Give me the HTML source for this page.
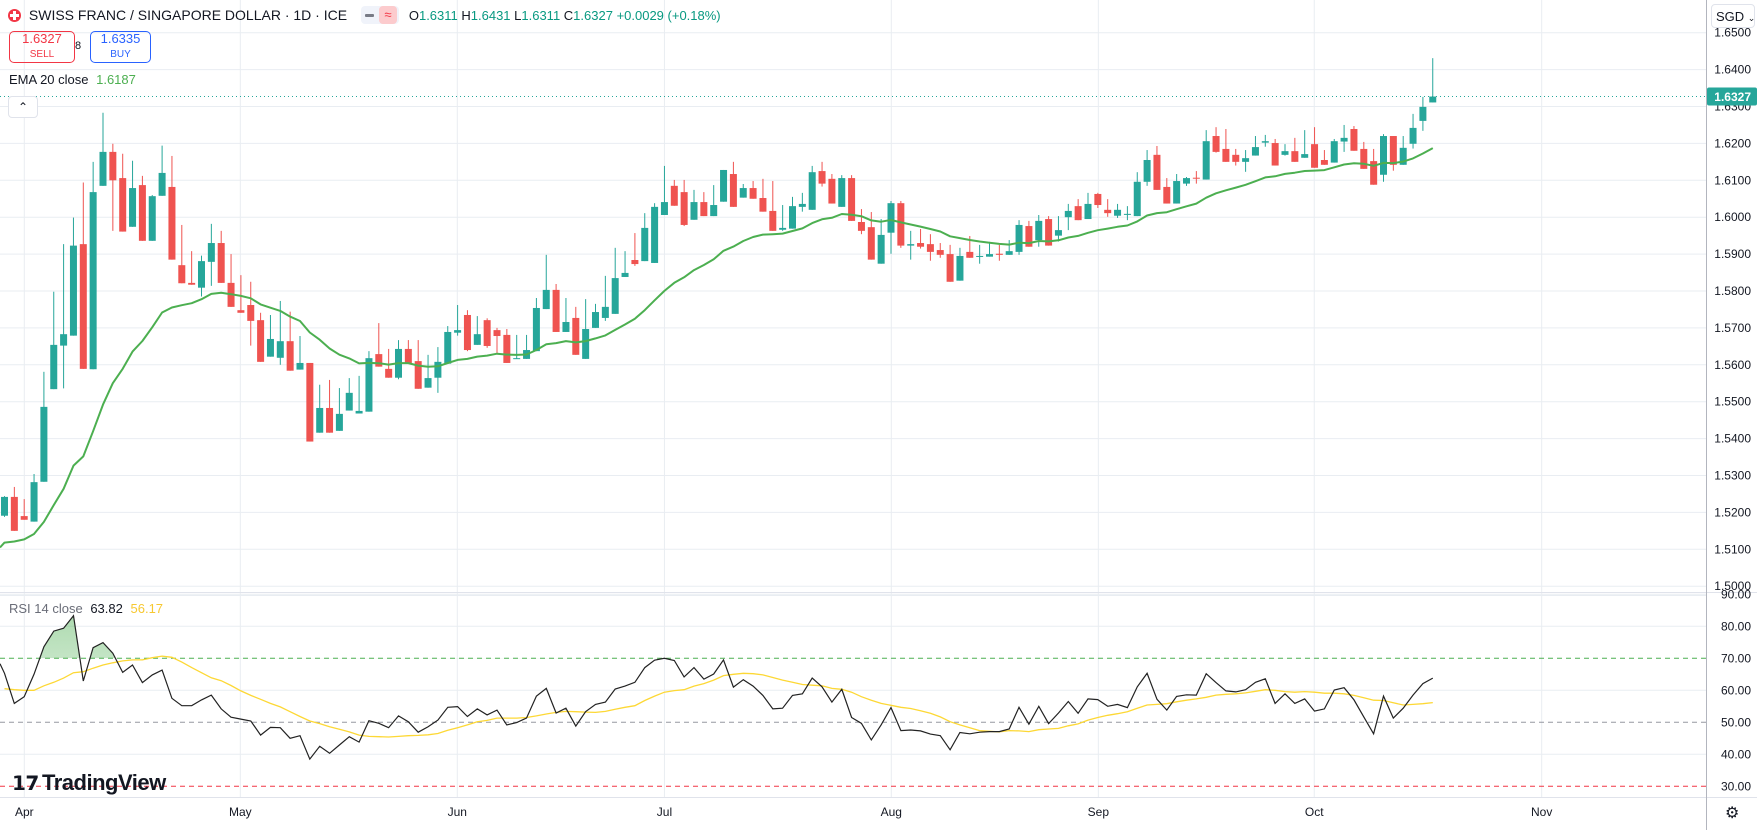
<!DOCTYPE html>
<html><head><meta charset="utf-8"><style>
html,body{margin:0;padding:0;background:#fff;}
body{width:1757px;height:830px;overflow:hidden;position:relative;font-family:"Liberation Sans",sans-serif;}
svg{position:absolute;left:0;top:0;}
.hdr{position:absolute;font-size:14px;color:#131722;white-space:nowrap;}
</style></head><body>
<svg id="chart" width="1757" height="830" viewBox="0 0 1757 830" xmlns="http://www.w3.org/2000/svg">
<defs>
<linearGradient id="obg" x1="0" y1="0" x2="0" y2="1"><stop offset="0" stop-color="#4caf50" stop-opacity="0.45"/><stop offset="1" stop-color="#4caf50" stop-opacity="0.05"/></linearGradient>
<clipPath id="obClip"><rect x="0" y="596" width="1706" height="62.3"/></clipPath>
<clipPath id="mainClip"><rect x="0" y="0" width="1706" height="590"/></clipPath>
</defs>
<g id="grid"></g>
<g id="candles" clip-path="url(#mainClip)"></g>
<g id="rsiG"></g>
<g id="axes"></g>
</svg>

<div class="hdr" style="left:8px;top:6px;">
<span style="display:inline-block;width:13px;height:13px;border-radius:50%;background:#f23645;vertical-align:-2px;position:relative;"><span style="position:absolute;left:2px;top:5px;width:9px;height:3px;background:#fff"></span><span style="position:absolute;left:5px;top:2px;width:3px;height:9px;background:#fff"></span></span>
<span style="margin-left:4px;">SWISS FRANC / SINGAPORE DOLLAR · 1D · ICE</span>
<span style="display:inline-block;margin-left:10px;width:38px;height:18px;border-radius:4px;background:#f0f3fa;vertical-align:-4px;position:relative;"><span style="position:absolute;left:4px;top:8px;width:9px;height:3px;background:#787b86;border-radius:1px"></span><span style="position:absolute;left:18px;top:0;width:18px;height:18px;border-radius:4px;background:#fccbcd;color:#f23645;font-size:13px;text-align:center;line-height:18px;">≈</span></span>
<span style="margin-left:6px;font-size:13px;">O<span style="color:#089981">1.6311</span> H<span style="color:#089981">1.6431</span> L<span style="color:#089981">1.6311</span> C<span style="color:#089981">1.6327</span> <span style="color:#089981">+0.0029 (+0.18%)</span></span>
</div>
<div style="position:absolute;left:9px;top:31px;width:64px;height:30px;border:1px solid #f23645;border-radius:5px;color:#f23645;text-align:center;font-size:13px;line-height:14px;">1.6327<br><span style="font-size:10px;">SELL</span></div>
<div style="position:absolute;left:75px;top:40px;font-size:11px;color:#131722;">8</div>
<div style="position:absolute;left:90px;top:31px;width:59px;height:30px;border:1px solid #2962ff;border-radius:5px;color:#2962ff;text-align:center;font-size:13px;line-height:14px;">1.6335<br><span style="font-size:10px;">BUY</span></div>
<div style="position:absolute;left:9px;top:72px;font-size:13px;color:#131722;">EMA 20 close <span style="color:#4caf50;margin-left:4px;">1.6187</span></div>
<div style="position:absolute;left:8px;top:96px;width:28px;height:20px;border:1px solid #e0e3eb;border-radius:4px;background:#fff;text-align:center;font-size:12px;line-height:20px;color:#131722;">⌃</div>
<div style="position:absolute;left:9px;top:601px;font-size:13px;color:#6a6d78;">RSI 14 close <span style="color:#131722;margin-left:4px;">63.82</span> <span style="color:#f7c831;margin-left:4px;">56.17</span></div>
<div style="position:absolute;left:12px;top:770px;font-size:22px;font-weight:bold;color:#131722;letter-spacing:-0.5px;"><span style="display:inline-block;width:30px;font-size:20px;">𝟭𝟳</span>TradingView</div>
<div style="position:absolute;left:1711px;top:4px;width:44px;height:24px;border:1px solid #e0e3eb;border-radius:4px;background:#fff;font-size:13px;line-height:24px;color:#131722;white-space:nowrap;padding-left:4px;box-sizing:border-box;">SGD <span style="font-size:9px;">⌄</span></div>
<div style="position:absolute;left:1725px;top:803px;font-size:16px;color:#131722;">⚙</div>

<script>
const opens=[1.5191,1.5242,1.5190,1.5175,1.5283,1.5534,1.5652,1.5679,1.5927,1.5588,1.6085,1.6177,1.6106,1.5974,1.6087,1.5936,1.6058,1.6082,1.5870,1.5822,1.5809,1.5879,1.5930,1.5822,1.5748,1.5762,1.5721,1.5622,1.5619,1.5664,1.5587,1.5605,1.5416,1.5483,1.5421,1.5476,1.5468,1.5473,1.5629,1.5589,1.5565,1.5643,1.5610,1.5538,1.5565,1.5603,1.5687,1.5735,1.5654,1.5721,1.5694,1.5681,1.5616,1.5616,1.5637,1.5751,1.5803,1.5689,1.5727,1.5616,1.5700,1.5727,1.5738,1.5838,1.5884,1.5881,1.5876,1.6006,1.6085,1.6068,1.5993,1.6041,1.6003,1.6042,1.6117,1.6053,1.6079,1.6052,1.6017,1.5966,1.5969,1.6028,1.6020,1.6125,1.6104,1.6028,1.6106,1.5987,1.5973,1.5874,1.5958,1.6038,1.5923,1.5930,1.5927,1.5911,1.5900,1.5828,1.5906,1.5893,1.5893,1.5901,1.5898,1.5906,1.5976,1.5938,1.5995,1.5950,1.6000,1.6030,1.5995,1.6063,1.6020,1.6004,1.6007,1.6003,1.6096,1.6169,1.6082,1.6037,1.6091,1.6107,1.6102,1.6220,1.6185,1.6169,1.6150,1.6167,1.6202,1.6201,1.6169,1.6179,1.6161,1.6198,1.6155,1.6148,1.6205,1.6239,1.6185,1.6152,1.6115,1.6220,1.6142,1.6199,1.6261,1.6311];
const highs=[1.5244,1.5269,1.5236,1.5304,1.5581,1.5798,1.5927,1.5999,1.6094,1.6150,1.6283,1.6199,1.6172,1.6153,1.6112,1.6060,1.6194,1.6166,1.5979,1.5908,1.5896,1.5982,1.5963,1.5900,1.5843,1.5825,1.5741,1.5735,1.5773,1.5744,1.5678,1.5605,1.5546,1.5559,1.5537,1.5564,1.5570,1.5637,1.5713,1.5643,1.5667,1.5667,1.5667,1.5627,1.5648,1.5705,1.5762,1.5748,1.5732,1.5726,1.5700,1.5697,1.5681,1.5681,1.5781,1.5898,1.5819,1.5781,1.5757,1.5778,1.5765,1.5841,1.5917,1.5908,1.5957,1.6011,1.6038,1.6139,1.6101,1.6101,1.6074,1.6068,1.6087,1.6128,1.6150,1.6090,1.6098,1.6104,1.6098,1.6033,1.6055,1.6066,1.6139,1.6150,1.6117,1.6114,1.6114,1.6022,1.6014,1.5995,1.6044,1.6044,1.5963,1.5968,1.5954,1.5930,1.5925,1.5917,1.5949,1.5925,1.5933,1.5925,1.5938,1.5992,1.5990,1.6006,1.6003,1.6003,1.6036,1.6049,1.6066,1.6066,1.6049,1.6036,1.6030,1.6122,1.6182,1.6193,1.6106,1.6117,1.6109,1.6125,1.6236,1.6244,1.6239,1.6185,1.6182,1.6220,1.6223,1.6212,1.6198,1.6215,1.6236,1.6244,1.6182,1.6212,1.6250,1.6247,1.6204,1.6185,1.6225,1.6220,1.6220,1.6280,1.6326,1.6431];
const lows=[1.5188,1.5150,1.5180,1.5175,1.5283,1.5534,1.5536,1.5679,1.5589,1.5588,1.6085,1.5963,1.5961,1.5974,1.5936,1.5936,1.6058,1.5885,1.5821,1.5817,1.5785,1.5814,1.5822,1.5757,1.5741,1.5652,1.5608,1.5622,1.5600,1.5584,1.5587,1.5392,1.5416,1.5416,1.5421,1.5476,1.5468,1.5473,1.5595,1.5565,1.5561,1.5605,1.5535,1.5538,1.5524,1.5603,1.5679,1.5637,1.5654,1.5646,1.5632,1.5605,1.5616,1.5616,1.5637,1.5751,1.5689,1.5689,1.5627,1.5616,1.5700,1.5719,1.5738,1.5838,1.5868,1.5881,1.5876,1.6006,1.6031,1.5976,1.5993,1.6003,1.6003,1.6042,1.6028,1.6053,1.6050,1.6015,1.5963,1.5963,1.5969,1.6015,1.6020,1.6083,1.6037,1.6028,1.5990,1.5954,1.5885,1.5874,1.5901,1.5917,1.5885,1.5915,1.5882,1.5890,1.5825,1.5828,1.5890,1.5874,1.5893,1.5882,1.5898,1.5898,1.5920,1.5920,1.5923,1.5934,1.5965,1.5992,1.5995,1.6025,1.6001,1.5998,1.5992,1.6003,1.6085,1.6074,1.6037,1.6037,1.6085,1.6091,1.6102,1.6175,1.6150,1.6140,1.6123,1.6167,1.6191,1.6140,1.6167,1.6150,1.6161,1.6134,1.6142,1.6148,1.6177,1.6180,1.6131,1.6088,1.6096,1.6126,1.6142,1.6186,1.6234,1.6311];
const closes=[1.5242,1.5150,1.5180,1.5282,1.5486,1.5654,1.5683,1.5923,1.5589,1.6068,1.6177,1.6100,1.5961,1.6079,1.5936,1.6057,1.6120,1.5885,1.5821,1.5817,1.5881,1.5930,1.5822,1.5757,1.5741,1.5719,1.5608,1.5670,1.5664,1.5584,1.5605,1.5392,1.5483,1.5416,1.5467,1.5524,1.5475,1.5618,1.5595,1.5565,1.5643,1.5605,1.5535,1.5564,1.5608,1.5689,1.5694,1.5640,1.5683,1.5651,1.5678,1.5605,1.5618,1.5640,1.5754,1.5803,1.5689,1.5716,1.5627,1.5697,1.5743,1.5757,1.5835,1.5849,1.5873,1.5971,1.6028,1.6041,1.6031,1.5979,1.6041,1.6003,1.6033,1.6128,1.6028,1.6079,1.6050,1.6015,1.5963,1.5971,1.6030,1.6036,1.6122,1.6091,1.6037,1.6106,1.5990,1.5963,1.5885,1.5952,1.6038,1.5923,1.5927,1.5920,1.5906,1.5898,1.5825,1.5895,1.5890,1.5895,1.5900,1.5898,1.5908,1.5979,1.5920,1.5990,1.5923,1.5965,1.6017,1.5992,1.6036,1.6033,1.6011,1.6020,1.6009,1.6096,1.6155,1.6074,1.6037,1.6098,1.6106,1.6105,1.6206,1.6177,1.6150,1.6150,1.6160,1.6190,1.6206,1.6140,1.6179,1.6150,1.6171,1.6134,1.6142,1.6206,1.6215,1.6180,1.6131,1.6088,1.6220,1.6142,1.6188,1.6242,1.6299,1.6327];
const emaSeed=1.5105;
const rsiValues=[65.3,55.9,58,65,73.6,78.5,79.4,83.3,62.9,73.3,74.9,71.6,65.6,67.9,62.4,64.8,66.3,57.5,55.2,55.2,57,58.5,54.2,51.6,51,50.4,46,48.4,48.3,45,45.8,38.5,42.5,40.3,42.9,45.5,43.8,50.5,49.7,48.3,52,50.2,46.9,48.6,50.7,54.7,54.9,51.8,54.2,52.3,53.8,49.2,49.9,51.3,58.2,60.6,52.9,54.4,48.8,53.3,55.6,56.3,60.4,61.3,62.5,67.1,69.4,70,69.3,64.2,67.1,63.5,65.1,69.5,61,63.3,61.3,58.4,54.2,54.4,58.4,58.9,63.8,61.1,56.3,60.3,51.5,49.7,44.5,49.2,54.6,47.4,47.6,47.3,46.3,45.8,41.4,46.8,46.4,46.9,47.1,47.1,47.9,54.7,49.4,55,49.6,52.9,56.5,52.8,57.3,57.1,55,55.6,54.6,61.1,65.3,57.2,53.8,58.1,58.6,58.5,65.2,62.4,59.8,59.5,60.2,62.5,63.6,55.9,58.9,55.9,57.3,53.5,54.2,60.1,60.8,57,51.7,46.4,58.2,51.3,54.4,58.5,62.1,63.82];
const rsiMaValues=[60.5,60.2,60,60,61.4,62.5,63.8,65.5,65.8,66.9,67.9,68.6,69.2,69.5,69.5,70.2,70.7,70.3,68.8,67.1,65.5,63.9,63,61.5,59.8,58.4,57.2,55.9,54.8,53.3,51.8,50.4,49.6,48.6,47.8,47,46,45.6,45.5,45.4,45.6,45.8,45.9,46.1,46.5,47.5,48.3,49.2,50.2,50.6,51.3,51.3,51.3,51.5,52,52.6,53.1,53.4,53.3,53.2,53.1,53.4,54.1,54.7,55.2,56.8,58.2,59.4,59.9,60.2,61.3,62.1,63.2,64.6,65,65.3,65.2,64.8,64,63.2,62.5,61.8,61.6,61.4,60.6,60.3,59.4,58,56.9,55.9,55.3,54.7,54.3,53.6,52.8,51.7,50.2,49.2,48.3,47.4,47.2,47,47.4,47.3,47.1,47.7,47.9,48.1,48.9,49.5,50.7,51.5,52.2,52.7,53.3,54.4,55.4,55.6,55.8,56.4,56.9,57.3,57.8,58.5,58.75,58.9,59.2,59.7,60.2,60,59.6,59.4,59.6,59.4,59.1,59.1,58.9,58.4,57.7,56.9,56.8,56.1,55.4,55.6,55.8,56.17];
const monthLabels=["Apr","May","Jun","Jul","Aug","Sep","Oct","Nov"];
const monthIndex=[2.01,23.94,45.97,67,90.03,111.05,132.97,156.06];
const priceTicks=[1.50,1.51,1.52,1.53,1.54,1.55,1.56,1.57,1.58,1.59,1.60,1.61,1.62,1.63,1.64,1.65];
const rsiTicks=[90,80,70,60,50,40,30];
const lastPrice=1.6327;

const NS="http://www.w3.org/2000/svg";
const xOf=i=>4.5+9.85*i;
const yOf=p=>106.5+(1.63-p)*3690;
const rY=v=>722.3-(v-50)*3.2;
function mk(tag,attrs,parent){const e=document.createElementNS(NS,tag);for(const k in attrs)e.setAttribute(k,attrs[k]);parent.appendChild(e);return e;}
const grid=document.getElementById('grid'),cg=document.getElementById('candles'),rg=document.getElementById('rsiG'),ax=document.getElementById('axes');
const GC="#e9edf2";
priceTicks.forEach(p=>{const y=yOf(p);if(y>0&&y<590){const l=mk('line',{x1:0,x2:1706,y1:y,y2:y,stroke:GC,'stroke-width':1},grid);

}});
rsiTicks.forEach(v=>{if(v===70||v===50||v===30)return;const y=rY(v);const l=mk('line',{x1:0,x2:1706,y1:y,y2:y,stroke:GC,'stroke-width':1},grid);

});
monthIndex.forEach(m=>{const x=xOf(m);const l=mk('line',{x1:x,x2:x,y1:0,y2:797,stroke:GC,'stroke-width':1},grid);

});
mk('line',{x1:0,x2:1757,y1:592.5,y2:592.5,stroke:"#e0e3eb",'stroke-width':1},ax);
mk('line',{x1:0,x2:1706,y1:595.5,y2:595.5,stroke:GC,'stroke-width':1},ax);
mk('line',{x1:0,x2:1757,y1:797.5,y2:797.5,stroke:"#e0e3eb",'stroke-width':1},ax);
mk('line',{x1:1706.5,x2:1706.5,y1:0,y2:830,stroke:"#b2b5be",'stroke-width':1},ax);
for(let i=0;i<closes.length;i++){
 const up=closes[i]>=opens[i];const col=up?"#26a69a":"#ef5350";const x=xOf(i);
 const w=mk('line',{x1:x,x2:x,y1:yOf(highs[i]),y2:yOf(lows[i]),stroke:col,'stroke-width':1},cg);
 
 
 const t=yOf(Math.max(opens[i],closes[i])),b=yOf(Math.min(opens[i],closes[i]));
 const r=mk('rect',{x:x-3.5,y:t,width:7,height:Math.max(1,b-t),fill:col},cg);
 
 
}
let ema=emaSeed,pts=[];
for(let i=0;i<closes.length;i++){ema=ema+(2/21)*(closes[i]-ema);pts.push(xOf(i).toFixed(1)+","+yOf(ema).toFixed(1));}
const emaL=mk('polyline',{points:"0,"+yOf(emaSeed).toFixed(1)+" "+pts.join(" "),fill:"none",stroke:"#4caf50",'stroke-width':2,'stroke-linejoin':'round'},cg);


const lp=mk('line',{x1:0,x2:1706,y1:yOf(lastPrice),y2:yOf(lastPrice),stroke:"#26a69a",'stroke-width':1,'stroke-dasharray':'1,3'},ax);


[[70,"#4caf50"],[50,"#9598a1"],[30,"#f23645"]].forEach(([v,c])=>{const l=mk('line',{x1:0,x2:1706,y1:rY(v),y2:rY(v),stroke:c,'stroke-width':1,'stroke-dasharray':'5,4'},rg);

});
const rp=rsiValues.map((v,i)=>xOf(i).toFixed(1)+","+rY(v).toFixed(1));
const fillPts=xOf(0).toFixed(1)+","+rY(70)+" "+rp.join(" ")+" "+xOf(rsiValues.length-1).toFixed(1)+","+rY(70);
const of=mk('polygon',{points:fillPts,fill:"url(#obg)",'clip-path':'url(#obClip)'},rg);


const maL=mk('polyline',{points:rsiMaValues.map((v,i)=>xOf(i).toFixed(1)+","+rY(v).toFixed(1)).join(" "),fill:"none",stroke:"#fdd835",'stroke-width':1.3},rg);


const rL=mk('polyline',{points:"0,"+rY(rsiValues[0]+3).toFixed(1)+" "+rp.join(" "),fill:"none",stroke:"#222",'stroke-width':1.2},rg);


priceTicks.forEach(p=>{const y=yOf(p);if(y<20||y>590)return;const t=mk('text',{x:1751,y:y+4,'text-anchor':'end','font-size':12,fill:"#131722",'font-family':'Liberation Sans, sans-serif'},ax);t.textContent=p.toFixed(4);

});
rsiTicks.forEach(v=>{const t=mk('text',{x:1751,y:rY(v)+4,'text-anchor':'end','font-size':12,fill:"#131722",'font-family':'Liberation Sans, sans-serif'},ax);t.textContent=v.toFixed(2);

});
const tag=mk('rect',{x:1707,y:yOf(lastPrice)-9,width:50,height:18,fill:"#26a69a",rx:2},ax);


const tt=mk('text',{x:1751,y:yOf(lastPrice)+4.5,'text-anchor':'end','font-size':12,'font-weight':'bold',fill:"#fff",'font-family':'Liberation Sans, sans-serif'},ax);tt.textContent=lastPrice.toFixed(4);


monthLabels.forEach((m,k)=>{const t=mk('text',{x:Math.max(18,xOf(monthIndex[k])),y:816,'text-anchor':'middle','font-size':12,fill:"#131722",'font-family':'Liberation Sans, sans-serif'},ax);t.textContent=m;

});
</script>
</body></html>
